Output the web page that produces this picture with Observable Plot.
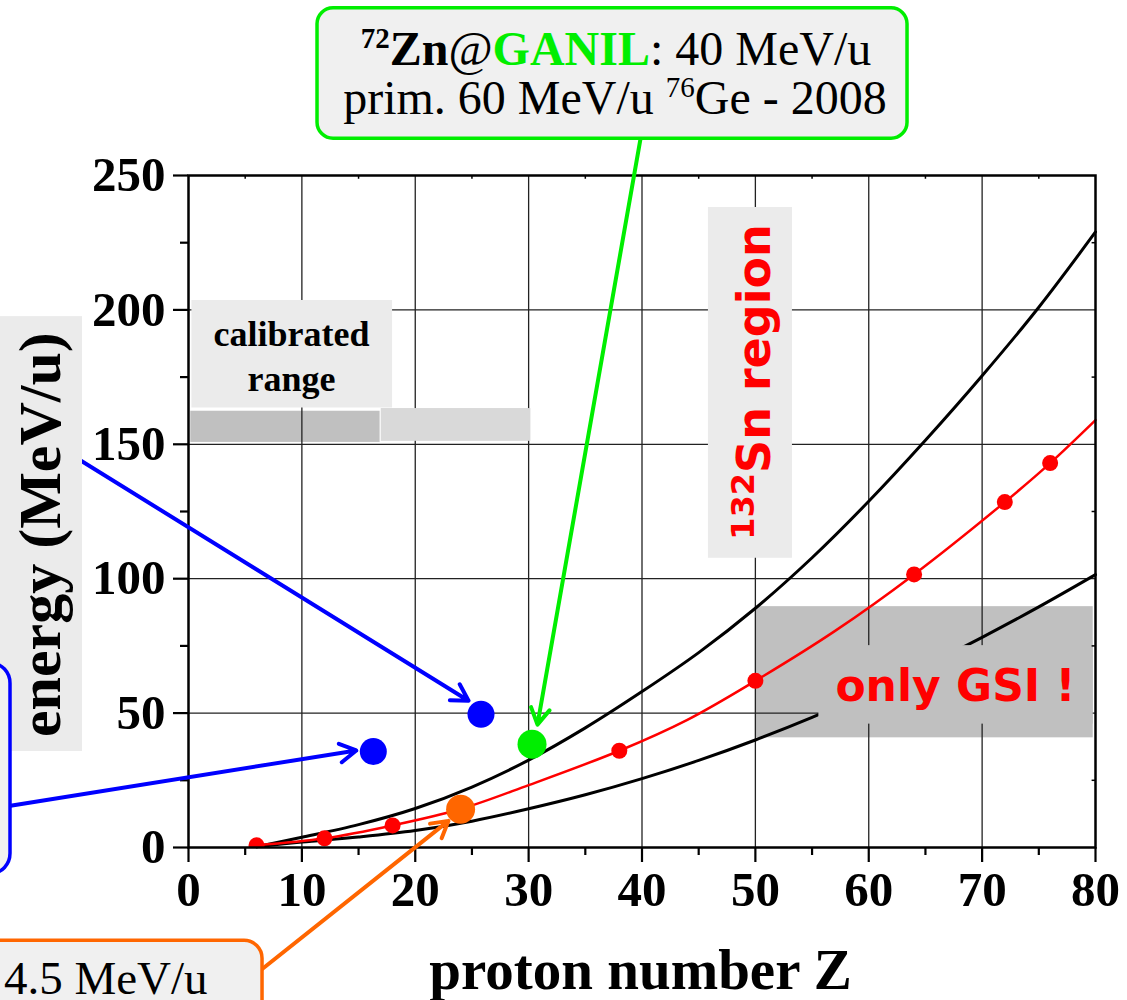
<!DOCTYPE html>
<html><head><meta charset="utf-8">
<script src="https://cdn.jsdelivr.net/npm/d3@7"></script>
<script src="https://cdn.jsdelivr.net/npm/@observablehq/plot@0.6"></script>
<style>body{margin:0;background:#fff;} svg{display:block}</style>
</head><body><div id="chart"></div>
<script>
// ---------- data ----------
const redDotZ = [6, 12, 18, 38, 50, 64, 72, 76];
const redDotE = [0.8, 3.4, 8.2, 36, 62, 101.6, 128.5, 143];
const redCurveZ = [6, 12, 18, 24, 30, 38, 44, 50, 57, 64, 72, 76, 80];
const redCurveE = [0.8, 3.4, 8.2, 14.3, 23.2, 36, 47.5, 62, 80.5, 101.6, 128.5, 143, 159];
const bandZ = [6, 10, 15, 20, 25, 30, 35, 40, 45, 50, 55, 60, 65, 70, 75, 80];
const upperE = [0.3, 3.8, 8.5, 14.5, 22.5, 32.5, 44.5, 58, 72.5, 89, 107.8, 128.8, 151.5, 175.5, 201, 229];
const lowerE = [0.3, 2.0, 3.9, 6.3, 9.8, 14.4, 19.6, 25.6, 32.4, 40, 48.4, 57.6, 67.6, 78.2, 89.5, 101.5];
const blueZ = [16.3, 25.8];
const blueE = [35.7, 49.6];
const greenZ = [30.3];
const greenE = [38.4];
const orangeZ = [24];
const orangeE = [14.2];
const xTicks = [0, 10, 20, 30, 40, 50, 60, 70, 80];
const xMinor = [5, 15, 25, 35, 45, 55, 65, 75];
const yTicks = [0, 50, 100, 150, 200, 250];
const yMinor = [25, 75, 125, 175, 225];
const calibLabel = ["calibrated", "range"];
const gsiLabel = "only GSI !";
const yTitle = "energy (MeV/u)";
const xTitle = "proton number Z";
const orangeNote = "4.5 MeV/u";

// ---------- annotation placement (data units) ----------
const boxes = {
  gsi: [50, 79.8, 40.8, 89.6],
  gsiText: [55.6, 79.8, 45.9, 75.1],
  calibDark: [0.2, 16.9, 150.7, 162.3],
  calibLight: [17.0, 30.2, 151.1, 163.3],
  calibBg: [0.3, 18.0, 163.5, 203.5],
  snBg: [45.86, 53.27, 107.6, 238.1],
  yBg: [-16.6, -9.35, 35.7, 197.5],
  blueBox: [-19, -15.7, -9.8, 68.4],
  orangeBox: [-19, 6.53, -68, -34.7],
  greenBox: [11.38, 63.42, 263.7, 312.2]
};
const arrows = [
  {x1: -14, y1: 155.7, x2: 24.7, y2: 54.6, c: "#0000ff"},
  {x1: -15.7, y1: 15.5, x2: 14.8, y2: 36.1, c: "#0000ff"},
  {x1: 6.53, y1: -45.1, x2: 22.93, y2: 9.9, c: "#ff6600"},
  {x1: 39.87, y1: 263.7, x2: 30.78, y2: 45.7, c: "#00ee00"}
];

const rows = (xs, ys) => xs.map((x, i) => ({x, y: ys[i]}));
const box = (b, o) => Plot.rect([0], {x1: b[0], x2: b[1], y1: b[2], y2: b[3], ...o});
const serif = "'Liberation Serif','Times New Roman',serif";
const comic = "'Comic Sans MS','DejaVu Sans',sans-serif";

const plot = Plot.plot({
  width: 1127, height: 1000,
  marginLeft: 188, marginRight: 32, marginTop: 175, marginBottom: 153,
  x: {domain: [0, 80]},
  y: {domain: [0, 250]},
  style: {fontFamily: serif, background: "#fff", overflow: "visible"},
  marks: [
    box(boxes.gsi, {fill: "#c0c0c0"}),
    box(boxes.calibDark, {fill: "#c0c0c0"}),
    Plot.ruleX(xTicks.slice(1, -1), {stroke: "#222", strokeWidth: 1.3}),
    Plot.ruleY(yTicks.slice(1, -1), {stroke: "#222", strokeWidth: 1.3}),
    box(boxes.calibLight, {fill: "#d9d9d9"}),
    box(boxes.calibBg, {fill: "#ebebeb"}),
    box(boxes.snBg, {fill: "#ebebeb"}),
    Plot.line(rows(bandZ, upperE), {x: "x", y: "y", curve: "catmull-rom", stroke: "#000", strokeWidth: 3}),
    Plot.line(rows(bandZ, lowerE), {x: "x", y: "y", curve: "catmull-rom", stroke: "#000", strokeWidth: 3}),
    box(boxes.gsiText, {fill: "#c0c0c0"}),
    Plot.line(rows(redCurveZ, redCurveE), {x: "x", y: "y", curve: "catmull-rom", stroke: "#ff0000", strokeWidth: 2.5}),
    Plot.dot(rows(redDotZ, redDotE), {x: "x", y: "y", r: 8, fill: "#ff0000", clip: true}),
    Plot.dot(rows(blueZ, blueE), {x: "x", y: "y", r: 13.5, fill: "#0000ff"}),
    Plot.dot(rows(greenZ, greenE), {x: "x", y: "y", r: 14.5, fill: "#00ee00"}),
    Plot.dot(rows(orangeZ, orangeE), {x: "x", y: "y", r: 14.5, fill: "#ff6600"}),
    Plot.frame({stroke: "#000", strokeWidth: 2.5}),
    Plot.ruleX(xMinor, {y1: 250, y2: 248.6, stroke: "#000", strokeWidth: 1.5}),
    Plot.ruleY(yMinor, {x1: 80, x2: 79.7, stroke: "#000", strokeWidth: 1.5}),
    Plot.axisX(xTicks, {tickSize: 15, tickPadding: 9, strokeWidth: 2.2, fontSize: 49, fontWeight: "bold", fontFamily: serif, fill: "#000", tickFormat: d => String(d), label: null}),
    Plot.axisX(xMinor, {tickSize: 8, strokeWidth: 2.2, text: null, label: null}),
    Plot.axisY(yTicks, {tickSize: 15, tickPadding: 8, strokeWidth: 2.2, fontSize: 49, fontWeight: "bold", fontFamily: serif, fill: "#000", tickFormat: d => String(d), label: null}),
    Plot.axisY(yMinor, {tickSize: 8, strokeWidth: 2.2, text: null, label: null}),
    Plot.arrow(arrows, {x1: "x1", y1: "y1", x2: "x2", y2: "y2", stroke: "c", strokeWidth: 4, headLength: 7, headAngle: 60}),
    box(boxes.yBg, {fill: "#ebebeb"}),
    box(boxes.blueBox, {fill: "#f0f0f0", stroke: "#0000ff", strokeWidth: 3.5, rx: 20}),
    box(boxes.orangeBox, {fill: "#f0f0f0", stroke: "#ff6600", strokeWidth: 3.5, rx: 18}),
    box(boxes.greenBox, {fill: "#f0f0f0", stroke: "#00ee00", strokeWidth: 3.5, rx: 16}),
    Plot.text([calibLabel[0]], {x: 9.08, y: 186.7, text: d => d, lineAnchor: "bottom", fontSize: 36, fontWeight: "bold", fontFamily: serif, fill: "#000"}),
    Plot.text([calibLabel[1]], {x: 9.08, y: 170, text: d => d, lineAnchor: "bottom", fontSize: 36, fontWeight: "bold", fontFamily: serif, fill: "#000"}),
    Plot.text([gsiLabel], {x: 67.65, y: 54.6, text: d => d, lineAnchor: "bottom", fontSize: 44, fontWeight: "bold", fontFamily: comic, fill: "#ff0000"}),
    Plot.text([yTitle], {x: -11.29, y: 116.4, text: d => d, rotate: -90, lineAnchor: "bottom", fontSize: 60, fontWeight: "bold", fontFamily: serif, fill: "#000"}),
    Plot.text([xTitle], {x: 39.87, y: -52.8, text: d => d, lineAnchor: "bottom", fontSize: 57, fontWeight: "bold", fontFamily: serif, fill: "#000"}),
    Plot.text([orangeNote], {x: 1.68, y: -54.6, text: d => d, textAnchor: "end", lineAnchor: "bottom", fontSize: 47, fontFamily: serif, fill: "#000"})
  ]
});
document.getElementById("chart").append(plot);

// rich-text annotations positioned through the plot's scales
const sx = plot.scale("x"), sy = plot.scale("y");
const svg = d3.select(plot);
const g = svg.append("g");

// green box text
const l1 = g.append("text").attr("x", sx.apply(37.75)).attr("y", sy.apply(290.9))
  .attr("text-anchor", "middle").attr("font-family", serif).attr("font-size", 48).attr("fill", "#000");
l1.append("tspan").attr("font-weight", "bold").attr("font-size", 29).attr("dy", -17).text("72");
l1.append("tspan").attr("font-weight", "bold").attr("dy", 17).text("Zn");
l1.append("tspan").text("@");
l1.append("tspan").attr("font-weight", "bold").attr("fill", "#00ee00").text("GANIL");
l1.append("tspan").text(": 40 MeV/u");

const l2 = g.append("text").attr("x", sx.apply(37.66)).attr("y", sy.apply(272.7))
  .attr("text-anchor", "middle").attr("font-family", serif).attr("font-size", 48).attr("fill", "#000");
l2.append("tspan").text("prim. 60 MeV/u ");
l2.append("tspan").attr("font-size", 29).attr("dy", -17).text("76");
l2.append("tspan").attr("dy", 17).text("Ge - 2008");

// 132Sn region label (rotated)
const sn = g.append("text")
  .attr("transform", `translate(${sx.apply(51.33)},${sy.apply(173)}) rotate(-90)`)
  .attr("text-anchor", "middle").attr("font-family", comic).attr("font-weight", "bold").attr("fill", "#ff0000");
sn.append("tspan").attr("font-size", 32).attr("dy", -16).text("132");
sn.append("tspan").attr("font-size", 46).attr("dy", 16).text("Sn region");
</script>
</body></html>
